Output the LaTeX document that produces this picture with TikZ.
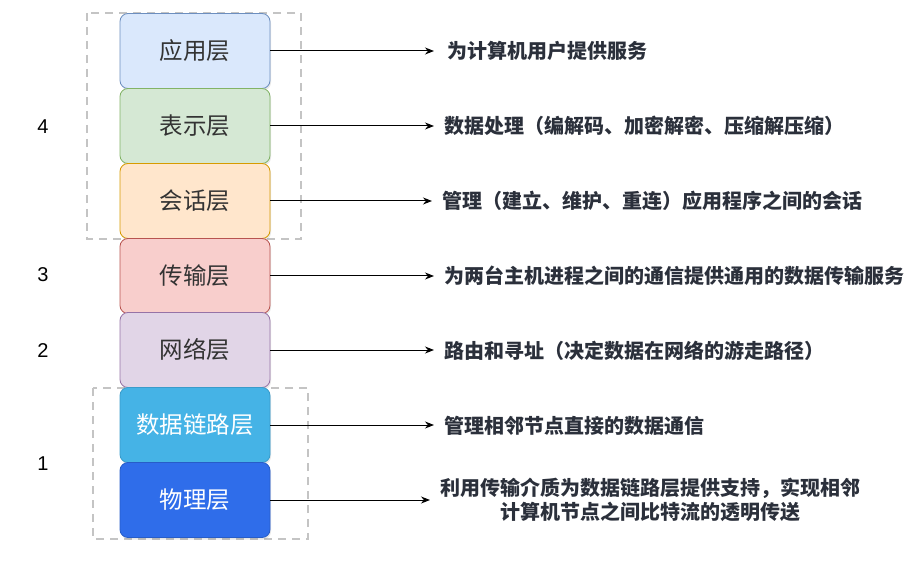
\documentclass[tikz,border=0pt]{standalone}
\usepackage{fontspec}
\usepackage{xcolor}
\usetikzlibrary{positioning,arrows.meta,shadows}
\setmainfont{Liberation Sans}
\newfontfamily\cjk{Noto Sans CJK SC}
\definecolor{appfill}{HTML}{DAE8FC}\definecolor{appline}{HTML}{6C8EBF}
\definecolor{prefill}{HTML}{D5E8D4}\definecolor{preline}{HTML}{82B366}
\definecolor{sesfill}{HTML}{FFE6CC}\definecolor{sesline}{HTML}{D79B00}
\definecolor{trafill}{HTML}{F8CECC}\definecolor{traline}{HTML}{B85450}
\definecolor{netfill}{HTML}{E1D5E7}\definecolor{netline}{HTML}{9673A6}
\definecolor{datfill}{HTML}{45B3E6}\definecolor{datline}{HTML}{3A9CCB}
\definecolor{phyfill}{HTML}{2F6DEA}\definecolor{phyline}{HTML}{275DC8}
\definecolor{txtgray}{HTML}{333333}
\definecolor{desctxt}{HTML}{2B303B}
\definecolor{grpgray}{HTML}{C4C4C4}

\begin{document}
\begin{tikzpicture}[x=1pt, y=-1pt,
  layer/.style={draw, rounded corners=8pt, minimum width=150pt, minimum height=75pt, inner sep=0pt,
    font=\cjk\fontsize{23.5}{28}\selectfont, text=txtgray, line width=0.8pt,
    drop shadow={opacity=0.18, shadow xshift=1pt, shadow yshift=-2pt}},
  desc/.style={anchor=west, inner sep=10pt, font=\cjk\bfseries\fontsize{20}{24}\selectfont, text=desctxt},
  num/.style={font=\fontsize{20}{24}\selectfont},
  arr/.style={-{Stealth[length=9pt, width=7pt]}, line width=1pt},
  grp/.style={draw=grpgray, line width=2.6pt, dash pattern=on 8pt off 6pt}]
\useasboundingbox (0,0) rectangle (924,564);
\draw[grp] (87,13) rectangle (301,239);
\draw[grp] (93,388) rectangle (308,539);
\node[layer, fill=appfill, draw=appline] (app) at (195,51)  {应用层};
\node[layer, fill=prefill, draw=preline] (pre) at (195,126) {表示层};
\node[layer, fill=sesfill, draw=sesline] (ses) at (195,201) {会话层};
\node[layer, fill=trafill, draw=traline] (tra) at (195,276) {传输层};
\node[layer, fill=netfill, draw=netline] (net) at (195,350) {网络层};
\node[layer, fill=datfill, draw=datline, text=white] (dat) at (195,425) {数据链路层};
\node[layer, fill=phyfill, draw=phyline, text=white] (phy) at (195,500) {物理层};
\node[num] (n4) at (43,127) {4};
\node[num] (n3) at (43,275) {3};
\node[num] (n2) at (43,351) {2};
\node[num] (n1) at (43,464) {1};
\node[desc] (dapp) at (434,51)  {\,为计算机用户提供服务};
\node[desc] (dpre) at (434,126) {数据处理（编解码、加密解密、压缩解压缩）};
\node[desc] (dses) at (432,201) {管理（建立、维护、重连）应用程序之间的会话};
\node[desc] (dtra) at (434,276) {为两台主机进程之间的通信提供通用的数据传输服务};
\node[desc] (dnet) at (434,351) {路由和寻址（决定数据在网络的游走路径）};
\node[desc] (ddat) at (434,426) {管理相邻节点直接的数据通信};
\node[desc, align=center] (dphy) at (430,500) {利用传输介质为数据链路层提供支持，实现相邻\\计算机节点之间比特流的透明传送};
\draw[arr] (app.east) -- (dapp.west);
\draw[arr] (pre.east) -- (dpre.west);
\draw[arr] (ses.east) -- (dses.west);
\draw[arr] (tra.east) -- (dtra.west);
\draw[arr] (net.east) -- (net.east -| dnet.west);
\draw[arr] (dat.east) -- (dat.east -| ddat.west);
\draw[arr] (phy.east) -- (dphy.west);
\end{tikzpicture}
\end{document}
